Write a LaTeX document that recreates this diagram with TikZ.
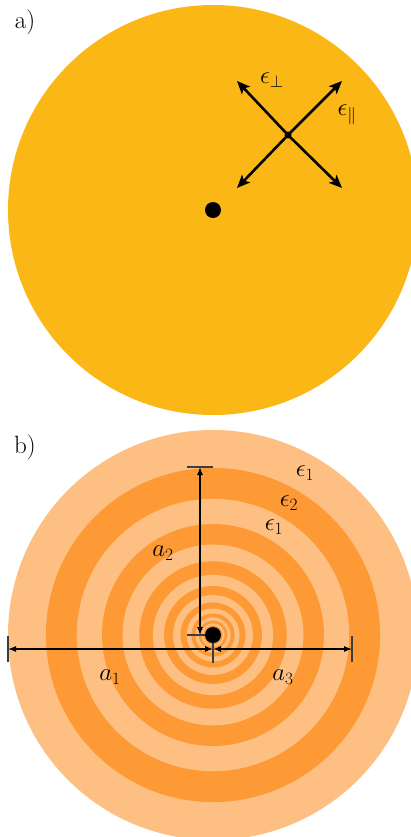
\documentclass[tikz,border=0pt]{standalone}
\usetikzlibrary{arrows.meta}
\definecolor{amber}{RGB}{251,183,21}
\definecolor{lightring}{RGB}{254,191,130}
\definecolor{darkring}{RGB}{253,154,54}
\definecolor{tickgray}{RGB}{60,60,60}
\begin{document}
\begin{tikzpicture}[x=1pt,y=-1pt,
  every node/.style={font=\fontsize{25}{30}\selectfont, inner sep=0pt},
  bigdot/.style={circle, fill=black, minimum size=16pt},
  polarrow/.style={line width=2.6pt, -{Stealth[length=13pt,width=11pt,inset=3pt]}},
  dimarrow/.style={line width=1.1pt, {Latex[length=8pt,width=6pt]}-{Latex[length=8pt,width=6pt]}},
  dimtick/.style={line width=1.3pt, tickgray}]
\useasboundingbox (0,0) rectangle (411,837);
\begin{scope}
  \clip (0,0) rectangle (411,837);
  % panel a
  \fill[amber] (213,210) circle (205pt);
  % panel b rings
  \foreach \k in {0,...,17} {
    \pgfmathsetmacro\r{205*0.815^\k}
    \ifodd\k
      \fill[darkring] (213,635) circle (\r pt);
    \else
      \fill[lightring] (213,635) circle (\r pt);
    \fi
  }
\end{scope}

% ---------- panel a ----------
\node (la) at (25,22) {a)};
\coordinate (X) at (288,135);
\coordinate (ul) at (237,81);
\coordinate (ur) at (342,81);
\coordinate (dl) at (237,188);
\coordinate (dr) at (342,188);
\draw[polarrow] (X) -- (ul);
\draw[polarrow] (X) -- (ur);
\draw[polarrow] (X) -- (dl);
\draw[polarrow] (X) -- (dr);
\fill (X) circle (3.5pt);
\node (eperp) at (272,80) {$\epsilon_\perp$};
\node (epar) at (347,115) {$\epsilon_\parallel$};
\node[bigdot] (dotA) at (213,210) {};

% ---------- panel b ----------
\node (lb) at (25,447) {b)};
\coordinate (C) at (213,635);
% a1 and a3
\coordinate (L) at (8,649);
\coordinate (M) at (213,649);
\coordinate (R) at (352,649);
\draw[dimtick] (8,636) -- (8,662);
\draw[dimtick] (213,637) -- (213,663);
\draw[dimtick] (352,636) -- (352,662);
\draw[dimarrow] (L) -- (M);
\draw[dimarrow] (M) -- (R);
% a2
\coordinate (T) at (200,467);
\coordinate (B) at (200,635);
\draw[dimtick] (187,467) -- (213,467);
\draw[dimtick] (187,635) -- (213,635);
\draw[dimarrow] (B) -- (T);
\node[bigdot] (dotB) at (C) {};
\node (a1) at (110,677) {$a_1$};
\node (a2) at (163,553) {$a_2$};
\node (a3) at (283,677) {$a_3$};
\node (e1o) at (305,473) {$\epsilon_1$};
\node (e2) at (289,503) {$\epsilon_2$};
\node (e1i) at (274,527) {$\epsilon_1$};
\end{tikzpicture}
\end{document}
